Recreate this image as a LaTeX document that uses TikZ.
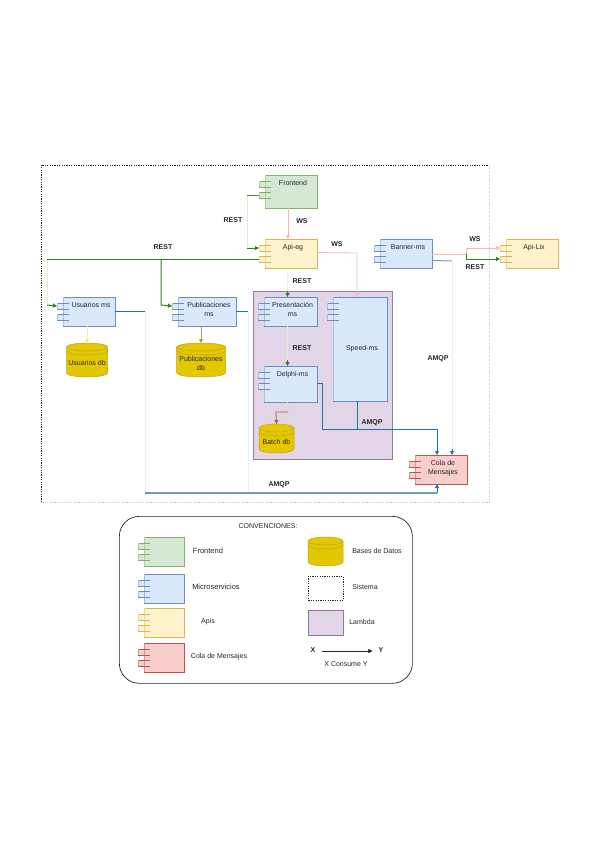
\documentclass[tikz,border=0pt]{standalone}
\usepackage{fontspec}
\setmainfont{Liberation Sans}
\usetikzlibrary{arrows.meta}
\definecolor{gf}{RGB}{213,232,212}\definecolor{gs}{RGB}{130,179,102}
\definecolor{bf}{RGB}{218,232,252}\definecolor{bs}{RGB}{108,142,191}
\definecolor{yf}{RGB}{255,242,204}\definecolor{ys}{RGB}{214,182,86}
\definecolor{rf}{RGB}{248,206,204}\definecolor{rs}{RGB}{184,84,80}
\definecolor{pf}{RGB}{225,213,231}\definecolor{ps}{RGB}{150,115,166}
\definecolor{cf}{RGB}{227,200,0}\definecolor{cs}{RGB}{190,165,20}
\definecolor{lgreen}{RGB}{50,125,20}\definecolor{pgreen}{RGB}{221,240,204}
\definecolor{lblue}{RGB}{30,115,175}\definecolor{pblue}{RGB}{221,243,250}
\definecolor{lteal}{RGB}{105,160,180}
\definecolor{lpink}{RGB}{248,184,176}\definecolor{porange}{RGB}{245,213,181}
\definecolor{lbrown}{RGB}{170,95,50}\definecolor{ltan}{RGB}{184,150,90}
\definecolor{pyellow}{RGB}{245,232,168}
\tikzset{
  txt/.style={font=\fontsize{7}{9}\selectfont,align=center,inner sep=0pt,text=black!85},
  txtb/.style={font=\fontsize{7.5}{9}\selectfont,align=center,inner sep=0pt,text=black!85},
  lab/.style={font=\fontsize{7}{9}\selectfont\bfseries,inner sep=0pt,text=black!85},
  head/.style={-{Triangle[length=4pt,width=4pt]}},
  paleg/.style={draw=pgreen,line width=.7pt},
  darkg/.style={draw=lgreen,line width=1pt},
  paleb/.style={draw=pblue,line width=.8pt},
  darkb/.style={draw=lblue,line width=1pt},
  tealb/.style={draw=lteal,line width=1.4pt},
  pinkl/.style={draw=lpink,line width=.8pt},
  box/.style={inner sep=0pt,outer sep=0pt,anchor=north west},
  sistema/.style={draw=black!85,dash pattern=on 1.2pt off 1.2pt,line width=.7pt},
}
% [text dy], name, x-y, w, h, fill, stroke, text
\newcommand\comp[8][5]{%
  \node[box,fill=#6,minimum width=#4pt,minimum height=#5pt] (#2) at (#3) {};
  \node[box,fill=#6,minimum width=12pt,minimum height=6pt,xshift=-6pt,yshift=-6pt] (#2tA) at (#2.north west) {};
  \node[box,fill=#6,minimum width=12pt,minimum height=6pt,xshift=-6pt,yshift=-17pt] (#2tB) at (#2.north west) {};
  \draw[#7,line width=.7pt] (#2.north west) -- (#2.north east) -- (#2.south east) -- (#2.south west);
  \draw[#7!45!#6,line width=.4pt] (#2.north west) -- (#2.south west);
  \draw[#7,line width=.5pt] (#2tA.north east) -- (#2tA.north west) (#2tA.south west) -- (#2tA.south east);
  \draw[#7,line width=.5pt] (#2tB.north east) -- (#2tB.north west) (#2tB.south west) -- (#2tB.south east);
  \draw[#7!45!#6,line width=.4pt] (#2tA.north west) -- (#2tA.south west) (#2tB.north west) -- (#2tB.south west);
  \node[txt,anchor=north,xshift=2pt,yshift=-#1pt] (#2t) at (#2.north) {#8};
}
% name, center x, top y, w, h, text
\newcommand\cyl[6]{%
  \draw[fill=cf,draw=cs,line width=.5pt] (#2-#4/2,#3+4) -- (#2-#4/2,#3+#5-4) arc[start angle=180,end angle=0,x radius=#4/2,y radius=4] -- (#2+#4/2,#3+4) arc[start angle=0,end angle=-180,x radius=#4/2,y radius=4] -- cycle;
  \draw[draw=cs,line width=.5pt] (#2-#4/2,#3+4) arc[start angle=180,end angle=0,x radius=#4/2,y radius=4];
  \draw[draw=cs,line width=.5pt] (#2-#4/2,#3+8) arc[start angle=180,end angle=0,x radius=#4/2,y radius=4];
  \node[inner sep=0pt,minimum width=#4pt,minimum height=#5pt,anchor=north] (#1) at (#2,#3) {};
  \node[txt,yshift=-3pt] (#1t) at (#1.center) {#6};
}
\begin{document}
\begin{tikzpicture}[x=1pt,y=-1pt]
\path[use as bounding box,fill=white] (0,0) rectangle (599,848);
% system + lambda
\node[box,minimum width=448pt,minimum height=337pt] (sys) at (41,165) {};
\draw[black!85,dash pattern=on 1.2pt off 1.2pt,line width=.8pt] (sys.south west) -- (sys.north west) -- (sys.north east);
\draw[black!20,dash pattern=on 1.2pt off 1.2pt,line width=.6pt] (sys.north east) -- (sys.south east) -- (sys.south west);
\node[box,fill=pf,draw=ps!80!black!80,line width=.7pt,minimum width=139pt,minimum height=168pt] (lam) at (253,291) {};
% components
\comp{fe}{265,175}{52}{33}{gf}{gs}{Frontend}
\comp{api}{265,239}{52}{29}{yf}{ys}{Api-eg}
\comp{us}{63,297}{52}{29}{bf}{bs}{Usuarios ms}
\comp{pub}{178,297}{58}{29}{bf}{bs}{Publicaciones\\ms}
\comp{pre}{264,297}{53}{29}{bf}{bs}{Presentación\\ms}
\comp[48]{spe}{333,297}{54}{104}{bf}{bs}{Speed-ms}
\comp{del}{264,366}{53}{36}{bf}{bs}{Delphi-ms}
\comp{ban}{380,239}{52}{29}{bf}{bs}{Banner-ms}
\comp{lix}{506,239}{52}{29}{yf}{ys}{Api-Lix}
\comp{col}{415,455}{52}{29}{rf}{rs}{Cola de\\Mensajes}
\cyl{usdb}{87}{343}{41}{34}{Usuarios db}
\cyl{pubdb}{201}{343}{49}{34}{Publicaciones\\db}
\cyl{badb}{276.5}{424}{35}{29}{Batch db}
% coordinates
\coordinate (j1) at (247,195);
\coordinate (j2) at (247,248);
\coordinate (g1) at (47,259);
\coordinate (g2) at (47,305);
\coordinate (g3) at (161,259);
\coordinate (g4) at (161,305);
\coordinate (w1) at (357,253);
\coordinate (w2) at (466,254);
\coordinate (w3) at (466,248);
\coordinate (w4) at (466,259);
\coordinate (q1) at (452,261);
\coordinate (q2) at (145,311);
\coordinate (q3) at (145,493);
\coordinate (q4) at (437,493);
\coordinate (q5) at (248,311);
\coordinate (q6) at (248,493);
\coordinate (q7) at (322,383);
\coordinate (q8) at (322,429);
\coordinate (q9) at (437,429);
\coordinate (q10) at (357,429);
\coordinate (b1) at (288,412);
\coordinate (b2) at (276,412);
% connectors
\draw[pinkl,-{Triangle[length=4pt,width=4pt,fill=lpink]}] ([xshift=-3pt]fe.south) -- ([xshift=-3pt]api.north);
\draw[paleg] (j1) -- (j2);
\draw[draw=gs!70!black,line width=.8pt] (fetB.west) -- (j1);
\draw[darkg,head] (j2) -- (apitA.west);
\draw[paleg] (g1) -- (g2);
\draw[darkg] (apitB.west) -- (g1);
\draw[darkg,head] (g2) -- (ustA.west);
\draw[darkg,head] (g3) -- (g4) -- (pubtA.west);
\draw[paleg] ([xshift=-3pt]api.south) -- ([xshift=-3pt,yshift=4pt]pre.north);
\draw[darkg,head] ([xshift=-3pt,yshift=6pt]pre.north) -- ([xshift=-3pt]pre.north);
\draw[paleg] ([xshift=-3pt]pre.south) -- ([xshift=-3pt,yshift=5pt]del.north);
\draw[darkg,head] ([xshift=-3pt,yshift=6pt]del.north) -- ([xshift=-3pt]del.north);
\draw[draw=porange,line width=.8pt] ([xshift=-3pt]del.south) -- (b1);
\draw[draw=lbrown,line width=.8pt,head] (b1) -- (b2) -- (badb.north);
\draw[draw=pyellow,line width=.8pt,-{Triangle[length=4pt,width=4pt,fill=ys]}] ([xshift=-2pt]us.south) -- (usdb.north);
\draw[draw=ltan,line width=.9pt,head] ([xshift=-6pt]pub.south) -- (pubdb.north);
\draw[pinkl] (api.east) ++(0,-1) -- (w1) -- (w1 |- lam.north);
\draw[pinkl,-{Triangle[length=4pt,width=4pt,fill=lpink]}] (w1 |- lam.north) -- (w1 |- spe.north);
\draw[pinkl] (ban.east) ++(0,0.5) -- (w2) -- (w3);
\draw[pinkl,-{Triangle[length=4pt,width=4pt,fill=lpink]}] (w3) -- (lixtA.west);
\draw[darkg] (w2) -- (w4);
\draw[darkg,head] (w4) -- (lixtB.west);
\draw[darkb,draw=lteal] (ban.east) ++(0,7) -- (q1);
\draw[paleb] (q1) -- (q1 |- col.north);
\draw[darkb,head] (q1 |- col.north) ++(0,-6) -- (q1 |- col.north);
\draw[darkb] (us.east) ++(0,-0.5) -- (q2);
\draw[paleb] (q2) -- (q3);
\draw[darkb] (pub.east) ++(0,-0.5) -- (q5);
\draw[paleb] (q5) -- (q6);
\draw[tealb] (q3) -- (q4);
\draw[darkb,head] (q4) -- (q4 |- col.south);
\draw[darkb] (del.east |- q7) -- (q7) -- (q8) -- (q9);
\draw[darkb,head] (q9) -- (q9 |- col.north);
\draw[darkb] (spe.south -| q10) -- (q10);
% labels
\node[lab] (l1) at (233,220) {REST};
\node[lab] (l2) at (302,221) {WS};
\node[lab] (l3) at (163,247) {REST};
\node[lab] (l4) at (337,244) {WS};
\node[lab] (l5) at (302,281) {REST};
\node[lab] (l6) at (302,348) {REST};
\node[lab] (l7) at (475,239) {WS};
\node[lab] (l8) at (475,267) {REST};
\node[lab] (l9) at (438,359) {AMQP};
\node[lab] (l10) at (372,423) {AMQP};
\node[lab] (l11) at (279,485) {AMQP};
% legend
\node[draw=black!85,line width=.7pt,rounded corners=20pt,minimum width=293pt,minimum height=167pt,anchor=north west,inner sep=0pt] (leg) at (119,516) {};
\node[txt] (lt) at (268,526) {CONVENCIONES:};
\comp{a}{144,537}{40}{29}{gf}{gs}{}
\comp{b}{144,574}{40}{29}{bf}{bs}{}
\comp{c}{144,608}{40}{29}{yf}{ys}{}
\comp{d}{144,643}{40}{29}{rf}{rs}{}
\cyl{e}{325.5}{537}{35}{29}{}
\node[sistema,minimum width=35pt,minimum height=24pt,anchor=north west,inner sep=0pt] (f) at (308,576) {};
\node[fill=pf,draw=ps,line width=.5pt,minimum width=35pt,minimum height=25pt,anchor=north west,inner sep=0pt] (g) at (308,610) {};
\node[txtb] (ta) at (208,551) {Frontend};
\node[txtb] (tb) at (216,587) {Microservicios};
\node[txt] (tc) at (208,622) {Apis};
\node[txt] (td) at (219,657) {Cola de Mensajes};
\node[txt] (te) at (377,551) {Bases de Datos};
\node[txt] (tf) at (365,587) {Sistema};
\node[txt] (tg) at (362,622) {Lambda};
\node[lab] (x) at (313,650) {X};
\node[lab] (y) at (381,650) {Y};
\draw[draw=black!85,line width=.5pt,head] (x) ++(9,1) -- ([xshift=-6pt,yshift=-1pt]y.west);
\node[txt] (xy) at (346,664) {X Consume Y};
\end{tikzpicture}
\end{document}
